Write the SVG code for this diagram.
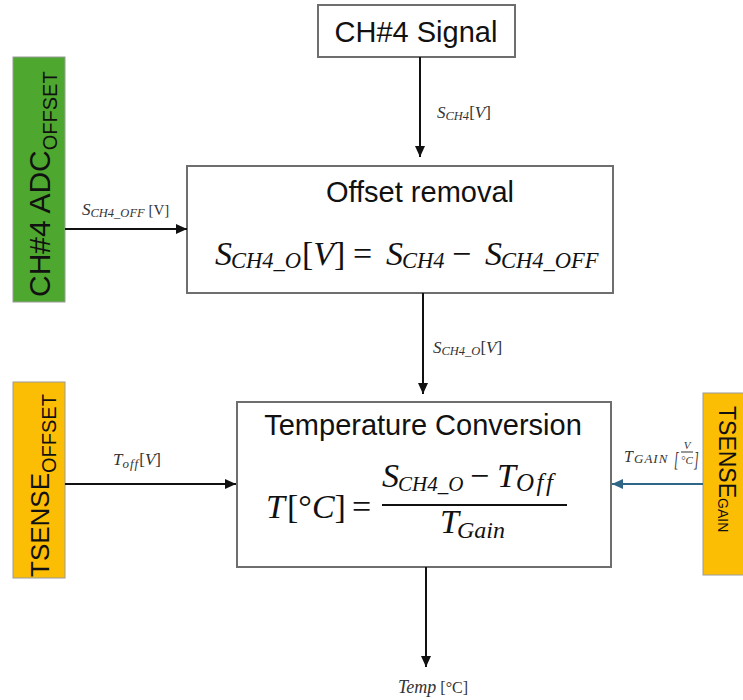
<svg xmlns="http://www.w3.org/2000/svg" width="743" height="700" viewBox="0 0 743 700">
<defs>
<style>
.box{fill:#fff;stroke:#6e6e6e;stroke-width:2}
.sans{font-family:"Liberation Sans",Arial,sans-serif;fill:#111}
.m{font-family:"Liberation Serif","Times New Roman",serif;font-style:italic;fill:#111}
.up{font-style:normal}
.lbl{font-family:"Liberation Serif","Times New Roman",serif;font-style:italic;fill:#333}
.conn{stroke:#111;stroke-width:2;fill:none}
</style>
<marker id="ah" markerUnits="userSpaceOnUse" markerWidth="12" markerHeight="10" refX="11" refY="5" orient="auto">
<path d="M0,0 L11,5 L0,10 Z" fill="#111"/>
</marker>
<marker id="aht" markerUnits="userSpaceOnUse" markerWidth="12" markerHeight="10" refX="11" refY="5" orient="auto">
<path d="M0,0 L11,5 L0,10 Z" fill="#2f6585"/>
</marker>
</defs>
<rect width="743" height="700" fill="#fff"/>

<g id="ch4-signal">
<rect class="box" x="318" y="5" width="197" height="52"/>
<text class="sans" x="416" y="42" font-size="29" text-anchor="middle">CH#4 Signal</text>
</g>

<g id="ch4-adc-offset">
<rect x="13" y="57" width="52" height="245" fill="#4ea72e" stroke="#9a9a9a" stroke-width="1"/>
<text class="sans" transform="translate(50,297) rotate(-90)" font-size="30">CH#4 ADC<tspan font-size="20" dy="7">OFFSET</tspan></text>
</g>

<g id="offset-removal">
<rect class="box" x="187" y="166" width="426" height="127"/>
<text class="sans" x="420" y="202" font-size="29" text-anchor="middle">Offset removal</text>
<text class="m" y="265" font-size="34"><tspan x="215">S</tspan><tspan x="231" dy="3" font-size="22.5">CH4_O</tspan><tspan x="302" dy="-3"><tspan class="up">[</tspan>V<tspan class="up">]</tspan></tspan><tspan class="up" x="353">=</tspan><tspan x="386">S</tspan><tspan x="402" dy="3" font-size="22.5">CH4</tspan><tspan class="up" x="452" dy="-3">−</tspan><tspan x="485">S</tspan><tspan x="501" dy="3" font-size="22.5">CH4_OFF</tspan></text>
</g>

<g id="tsense-offset">
<rect x="13" y="382" width="52" height="196" fill="#fcbd05" stroke="#9a9a9a" stroke-width="1"/>
<text class="sans" transform="translate(49,577) rotate(-90)" font-size="26">TSENSE<tspan font-size="20" dy="7">OFFSET</tspan></text>
</g>

<g id="temperature-conversion">
<rect class="box" x="237" y="402" width="374" height="165"/>
<text class="sans" x="423" y="435" font-size="29" text-anchor="middle">Temperature Conversion</text>
<text class="m" y="518" font-size="34"><tspan x="266">T</tspan><tspan class="up" x="287">[°</tspan>C<tspan class="up">]</tspan><tspan class="up" x="352">=</tspan></text>
<text class="m" y="487" font-size="34"><tspan x="382">S</tspan><tspan x="398" dy="4" font-size="21">CH4_O</tspan><tspan class="up" x="470" dy="-4">−</tspan><tspan x="497">T</tspan><tspan x="516" dy="4" font-size="25" letter-spacing="2.5">Off</tspan></text>
<line x1="382" y1="505" x2="567" y2="505" stroke="#111" stroke-width="2"/>
<text class="m" y="533" font-size="34"><tspan x="440">T</tspan><tspan x="457" dy="5" font-size="24">Gain</tspan></text>
</g>

<g id="tsense-gain">
<rect x="703" y="393" width="45" height="182" fill="#fcbd05" stroke="#9a9a9a" stroke-width="1"/>
<text class="sans" transform="translate(719,406) rotate(90)" font-size="23">TSENSE<tspan font-size="14" dy="1">GAIN</tspan></text>
</g>

<g id="connectors">
<line class="conn" x1="420" y1="57" x2="420" y2="157" marker-end="url(#ah)"/>
<line class="conn" x1="65" y1="229" x2="187" y2="229" marker-end="url(#ah)"/>
<line class="conn" x1="423" y1="293" x2="423" y2="394" marker-end="url(#ah)"/>
<line class="conn" x1="65" y1="484" x2="236" y2="484" marker-end="url(#ah)"/>
<line x1="703" y1="484" x2="612" y2="484" stroke="#2f6585" stroke-width="2" marker-end="url(#aht)"/>
<line class="conn" x1="426" y1="567" x2="426" y2="667" marker-end="url(#ah)"/>

<text class="lbl" x="82" y="215" font-size="17">S<tspan font-size="12.5" dy="2">CH4_OFF</tspan><tspan class="up" font-size="15" dy="-2"> [V]</tspan></text>
<text class="lbl" x="437" y="118" font-size="17">S<tspan font-size="12.5" dy="2">CH4</tspan><tspan dy="-2"><tspan class="up">[</tspan>V<tspan class="up">]</tspan></tspan></text>
<text class="lbl" x="433" y="353" font-size="17">S<tspan font-size="12.5" dy="2">CH4_O</tspan><tspan dy="-2"><tspan class="up">[</tspan>V<tspan class="up">]</tspan></tspan></text>
<text class="lbl" x="113" y="465" font-size="17">T<tspan font-size="13" dy="3" letter-spacing="1">off</tspan><tspan dy="-3"><tspan class="up">[</tspan>V<tspan class="up">]</tspan></tspan></text>
<text class="lbl" y="462" font-size="16"><tspan x="624">T</tspan><tspan x="634" dy="1" font-size="13" letter-spacing="1">GAIN</tspan></text>
<text class="lbl up" x="674" y="466" font-size="20" transform="translate(674,466) scale(0.6,1) translate(-674,-466)">[</text>
<text class="lbl" x="687" y="449" font-size="11" text-anchor="middle">V</text>
<line x1="681" y1="452" x2="693" y2="452" stroke="#333" stroke-width="1"/>
<text class="lbl" x="687" y="464" font-size="11" text-anchor="middle"><tspan class="up">°</tspan>C</text>
<text class="lbl up" x="694" y="466" font-size="20" transform="translate(694,466) scale(0.6,1) translate(-694,-466)">]</text>
<text class="lbl" x="398" y="693" font-size="18">Temp<tspan class="up" font-size="16"> [°C]</tspan></text>
</g>
</svg>
